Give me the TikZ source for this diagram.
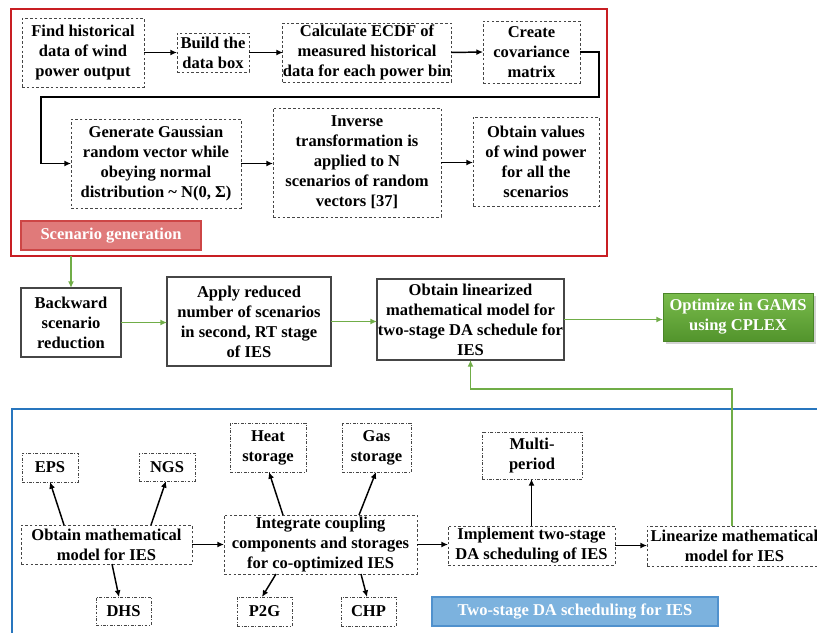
\documentclass[tikz,border=0pt]{standalone}
\usepackage{fontspec}
\setmainfont{Liberation Serif}
\usetikzlibrary{arrows.meta,shadows,calc}
\definecolor{frred}{RGB}{200,30,35}
\definecolor{lblred}{RGB}{224,122,122}
\definecolor{lblredb}{RGB}{205,70,70}
\definecolor{frblue}{RGB}{40,118,190}
\definecolor{lblblue}{RGB}{124,178,222}
\definecolor{lblblueb}{RGB}{80,145,205}
\definecolor{garrow}{RGB}{112,173,71}
\definecolor{gtop}{RGB}{122,188,76}
\definecolor{gbot}{RGB}{82,148,44}
\definecolor{boxline}{RGB}{70,70,70}
\newcommand\pbox[7]{\node[#1, minimum width={(#5-#3)*0.75pt}, minimum height={(#6-#4)*0.75pt}] (#2) at ({(#3+#5)/2},{(#4+#6)/2}) {#7};}
\begin{document}
\begin{tikzpicture}[x=0.75pt,y=-0.75pt,
  every node/.style={inner sep=0pt, outer sep=0pt, align=center,
    font=\bfseries\fontsize{12.4}{15}\selectfont},
  dbox/.style={draw=boxline, line width=0.7pt, dash pattern=on 2pt off 1.6pt},
  ddbox/.style={draw=boxline, line width=0.7pt, dash pattern=on 2.2pt off 1.2pt on 0.6pt off 1.2pt},
  sbox/.style={draw=boxline, line width=0.8pt},
  arr/.style={-{Latex[length=5pt,width=4.5pt]}, line width=1.1pt, black},
  garr/.style={-{Latex[length=5pt,width=4.5pt]}, line width=1.3pt, garrow},
  redfr/.style={draw=frred, line width=1.5pt},
  bluefr/.style={draw=frblue, line width=1.5pt},
  redlbl/.style={fill=lblred, draw=lblredb, line width=0.8pt, text=white},
  bluelbl/.style={fill=lblblue, draw=lblblueb, line width=0.8pt, text=white},
  optbox/.style={top color=gtop, bottom color=gbot, draw=gbot!90!black, line width=0.5pt, text=white,
    drop shadow={opacity=0.35, shadow xshift=2pt, shadow yshift=-2pt}}
]
\useasboundingbox (0,0) rectangle (817,632);
\clip (0,0) rectangle (817,632);
% frames
\pbox{redfr}{sg}{11}{9}{607}{256}{}
\pbox{bluefr}{bf}{12}{409}{840}{660}{}
% scenario generation
\pbox{dbox}{b1}{22}{18}{144}{87}{Find historical\\data of wind\\power output}
\pbox{dbox}{b2}{177}{33}{249}{72}{Build the\\data box}
\pbox{dbox}{b3}{283}{23}{451}{82}{Calculate ECDF of\\measured historical\\data for each power bin}
\pbox{dbox}{b4}{483}{21}{580}{83}{Create\\covariance\\matrix}
\pbox{dbox}{b5}{71}{119}{241}{208}{Generate Gaussian\\random vector while\\obeying normal\\distribution \textasciitilde{} N(0, Σ)}
\pbox{dbox}{b6}{273}{108}{441}{217}{Inverse\\transformation is\\applied to N\\scenarios of random\\vectors [37]}
\pbox{dbox}{b7}{473}{117}{599}{206}{Obtain values\\of wind power\\for all the\\scenarios}
\pbox{redlbl}{sgl}{21}{221}{201}{250}{Scenario generation}
\draw[arr] (b1.east) -- (b2.west);
\draw[arr] (b2.east) -- (b3.west);
\draw[arr] (b3.east) -- (b4.west);
\coordinate (t1) at (599,52);
\coordinate (t2) at (599,97);
\coordinate (t3) at (41,97);
\draw[arr] (b4.east) -- (t1) -- (t2) -- (t3) |- (b5.west);
\draw[arr] (b5.east) -- (b5.east -| b6.west);
\draw[arr] (b6.east) -- (b6.east -| b7.west);
% middle row
\pbox{sbox}{bw}{21}{288}{121}{357}{Backward\\scenario\\reduction}
\pbox{sbox}{ap}{167}{277}{331}{366}{Apply reduced\\number of scenarios\\in second, RT stage\\of IES}
\pbox{sbox}{ol}{377}{279}{564}{360}{Obtain linearized\\mathematical model for\\two-stage DA schedule for\\IES}
\pbox{optbox}{op}{663}{293}{813}{341}{Optimize in GAMS\\using CPLEX}
\draw[garr] (bw.north |- sg.south) -- (bw.north);
\draw[garr] (bw.east) -- (bw.east -| ap.west);
\draw[garr] (ap.east) -- (ap.east -| ol.west);
\draw[garr] (ol.east) -- (ol.east -| op.west);
% two-stage DA scheduling
\pbox{ddbox}{eps}{22}{453}{78}{482}{EPS}
\pbox{ddbox}{ngs}{139}{453}{195}{481}{NGS}
\pbox{ddbox}{hs}{230}{423}{306}{472}{Heat\\storage}
\pbox{ddbox}{gs}{342}{423}{411}{472}{Gas\\storage}
\pbox{dbox}{om}{21}{525}{192}{564}{Obtain mathematical\\model for IES}
\pbox{dbox}{ic}{224}{515}{417}{574}{Integrate coupling\\components and storages\\for co-optimized IES}
\pbox{ddbox}{dhs}{96}{597}{151}{625}{DHS}
\pbox{ddbox}{p2g}{237}{597}{292}{626}{P2G}
\pbox{ddbox}{chp}{341}{597}{396}{626}{CHP}
\pbox{ddbox}{mp}{482}{432}{582}{479}{Multi-\\period}
\pbox{dbox}{im}{448}{526}{615}{565}{Implement two-stage\\DA scheduling of IES}
\pbox{dbox}{ln}{647}{526}{822}{566}{Linearize mathematical\\model for IES}
\pbox{bluelbl}{tsl}{432}{597}{718}{626}{Two-stage DA scheduling for IES}
\draw[arr] ($(om.north west)+(43,0)$) -- ($(eps.south west)+(28,0)$);
\draw[arr] ($(om.north west)+(130,0)$) -- ($(ngs.south west)+(27,0)$);
\draw[arr] ($(om.south west)+(91,0)$) -- ($(dhs.north west)+(23,0)$);
\draw[arr] ($(ic.north west)+(59,0)$) -- ($(hs.south west)+(39,0)$);
\draw[arr] ($(ic.north west)+(135,0)$) -- ($(gs.south west)+(34,0)$);
\draw[arr] ($(ic.south west)+(52,0)$) -- ($(p2g.north west)+(25,0)$);
\draw[arr] ($(ic.south west)+(137,0)$) -- ($(chp.north west)+(26,0)$);
\draw[arr] (om.east) -- (om.east -| ic.west);
\draw[arr] (ic.east) -- (ic.east -| im.west);
\draw[arr] (im.east) -- (im.east -| ln.west);
\draw[arr] (im.north) -- (im.north |- mp.south);
\coordinate (f1) at (732,389);
\coordinate (f2) at (470.5,389);
\draw[garr] ($(ln.north west)+(85,0)$) -- (f1) -- (f2) -- (ol.south);
\end{tikzpicture}
\end{document}
